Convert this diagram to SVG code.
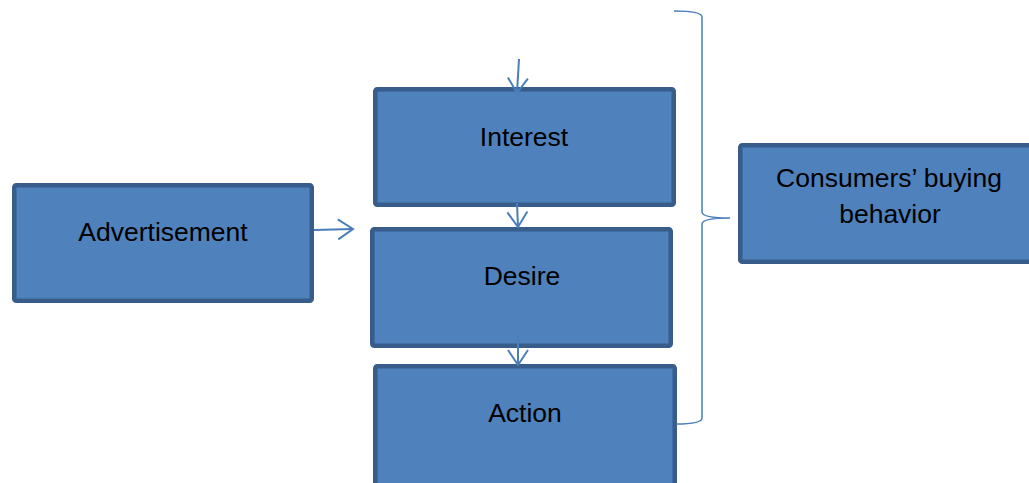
<svg xmlns="http://www.w3.org/2000/svg" width="1029" height="483" viewBox="0 0 1029 483">
<style>
.box{fill:#4F81BD;stroke:#385D8A;stroke-width:4.5}
.lbl{font-family:"Liberation Sans",Arial,sans-serif;font-size:26.5px;fill:#000;text-anchor:middle}
.con{fill:none;stroke:#4A7EBB;stroke-width:2}
</style>
<defs>
<marker id="arr" viewBox="-17 -12 19 24" refX="0" refY="0" markerWidth="19" markerHeight="24" markerUnits="userSpaceOnUse" orient="auto">
<path d="M-15,-10 L0,0 L-15,10" fill="none" stroke="#4A7EBB" stroke-width="2"/>
</marker>
</defs>
<rect width="1029" height="483" fill="#fff"/>
<g id="advertisement"><rect class="box" x="14.25" y="185.25" width="297.5" height="115.5" rx="2"/><text class="lbl" x="163" y="241">Advertisement</text></g>
<g id="interest"><rect class="box" x="375.25" y="89.25" width="298.5" height="115.5" rx="2"/><text class="lbl" x="524" y="146">Interest</text></g>
<g id="desire"><rect class="box" x="372.25" y="229.25" width="298.5" height="116.5" rx="2"/><text class="lbl" x="522" y="285">Desire</text></g>
<g id="action"><rect class="box" x="375.25" y="366.25" width="299.5" height="125" rx="2"/><text class="lbl" x="525" y="422">Action</text></g>
<g id="consumers"><rect class="box" x="740.25" y="145.25" width="300" height="116.5" rx="2"/><text class="lbl" x="889" y="187">Consumers’ buying</text><text class="lbl" x="890" y="223">behavior</text></g>
<g id="connectors">
<path class="con" d="M519,59 L517,93" marker-end="url(#arr)"/>
<path class="con" d="M517,203 L518,227" marker-end="url(#arr)"/>
<path class="con" d="M314,230 L353,229" marker-end="url(#arr)"/>
<path class="con" d="M518,335 L518,365" marker-end="url(#arr)"/>
<path class="con" style="stroke-width:1.5" d="M674,11 Q702,11 702,17 L702,212 Q702,218 730,218 Q702,218 702,224 L702,418 Q702,424 676,424"/>
</g>
</svg>
